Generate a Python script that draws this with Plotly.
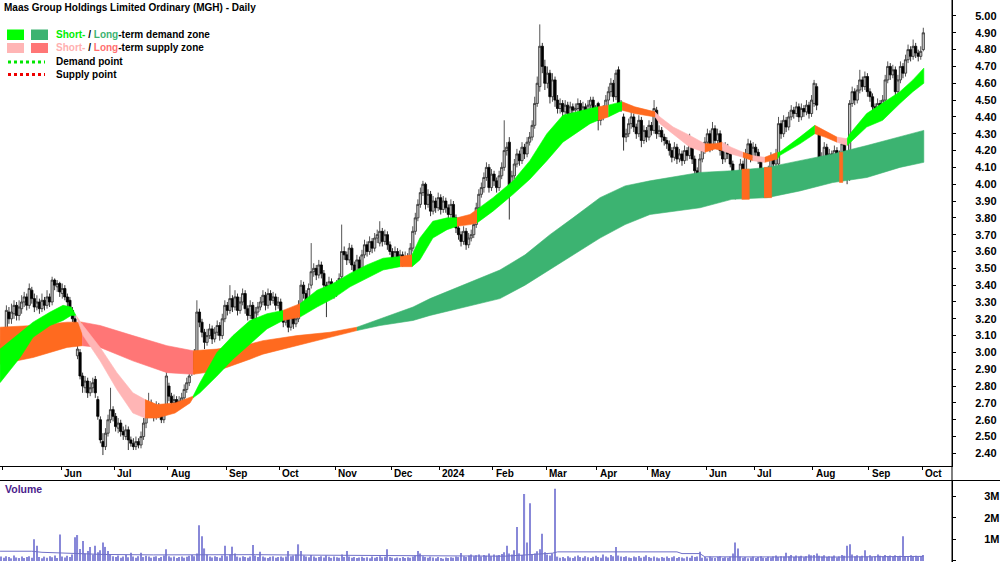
import plotly.graph_objects as go
import pandas as pd

W, H = 1000, 562

# ---------------- daily OHLC (index 0 = 28 Apr 2023) ----------------
opens = [
    3.02,3.04,3.08,3.24,3.20,3.23,3.28,3.22,3.26,3.30,
    3.33,3.28,3.37,3.32,3.27,3.30,3.26,3.31,3.28,3.33,
    3.30,3.43,3.39,3.41,3.35,3.38,3.33,3.31,3.25,3.20,
    2.98,3.00,2.86,2.79,2.83,2.76,2.79,2.84,2.72,2.60,
    2.47,2.44,2.52,2.60,2.66,2.62,2.55,2.58,2.53,2.50,
    2.54,2.48,2.46,2.44,2.47,2.45,2.50,2.58,2.63,2.70,
    2.66,2.62,2.68,2.64,2.60,2.68,2.80,2.74,2.70,2.72,
    2.68,2.71,2.73,2.78,2.82,2.88,3.00,2.92,3.24,3.18,
    3.12,3.06,3.10,3.14,3.08,3.12,3.16,3.10,3.20,3.28,
    3.25,3.32,3.27,3.33,3.25,3.30,3.35,3.26,3.22,3.28,
    3.20,3.24,3.27,3.30,3.34,3.28,3.35,3.31,3.33,3.28,
    3.30,3.22,3.18,3.20,3.15,3.21,3.17,3.20,3.28,3.40,
    3.35,3.30,3.40,3.48,3.50,3.46,3.52,3.47,3.40,3.36,
    3.42,3.38,3.35,3.40,3.45,3.60,3.58,3.55,3.62,3.52,
    3.48,3.55,3.50,3.58,3.64,3.60,3.66,3.62,3.68,3.65,
    3.72,3.66,3.70,3.64,3.60,3.56,3.60,3.55,3.58,3.54,
    3.57,3.56,3.62,3.72,3.80,3.88,3.95,4.00,3.88,3.94,
    3.84,3.90,3.86,3.92,3.85,3.90,3.86,3.82,3.88,3.80,
    3.74,3.70,3.66,3.72,3.64,3.68,3.70,3.76,3.86,3.94,
    3.98,4.04,4.10,3.98,4.06,4.02,3.98,4.05,4.10,4.20,
    4.25,3.97,4.05,4.12,4.18,4.14,4.22,4.18,4.25,4.28,
    4.35,4.48,4.58,4.82,4.70,4.60,4.66,4.52,4.62,4.50,
    4.45,4.48,4.43,4.47,4.42,4.46,4.44,4.45,4.48,4.43,
    4.46,4.44,4.47,4.50,4.45,4.48,4.38,4.40,4.44,4.50,
    4.55,4.60,4.52,4.68,4.48,4.40,4.28,4.30,4.36,4.40,
    4.34,4.30,4.38,4.26,4.32,4.28,4.35,4.32,4.44,4.30,
    4.32,4.28,4.26,4.24,4.20,4.16,4.22,4.15,4.18,4.14,
    4.20,4.17,4.25,4.15,4.08,3.98,4.15,4.20,4.25,4.30,
    4.22,4.33,4.26,4.30,4.20,4.15,4.22,4.18,4.12,4.02,
    3.95,4.05,4.12,4.08,4.18,4.24,4.16,4.22,4.19,4.14,
    4.06,4.00,4.02,4.08,4.16,4.12,4.12,4.36,4.30,4.38,
    4.34,4.40,4.44,4.42,4.46,4.40,4.45,4.43,4.47,4.42,
    4.48,4.58,4.30,4.10,4.16,4.22,4.12,4.18,4.14,4.20,
    4.12,4.17,4.24,4.10,4.04,4.48,4.55,4.50,4.56,4.62,
    4.58,4.64,4.55,4.52,4.46,4.42,4.48,4.44,4.50,4.62,
    4.70,4.65,4.68,4.55,4.62,4.70,4.66,4.74,4.80,4.76,
    4.82,4.78,4.76,4.80,
]
highs = [
    3.10,3.15,3.28,3.27,3.29,3.31,3.30,3.31,3.34,3.36,
    3.35,3.41,3.39,3.35,3.34,3.32,3.35,3.33,3.37,3.35,
    3.45,3.44,3.43,3.42,3.41,3.40,3.35,3.33,3.27,3.22,
    3.05,3.02,2.88,2.86,2.85,2.83,2.85,2.86,2.74,2.62,
    2.52,2.55,2.63,2.79,2.68,2.64,2.61,2.60,2.56,2.57,
    2.56,2.50,2.49,2.50,2.49,2.53,2.61,2.66,2.76,2.72,
    2.68,2.71,2.70,2.66,2.69,2.95,2.82,2.76,2.75,2.74,
    2.74,2.76,2.81,2.85,2.89,3.00,3.02,3.31,3.26,3.20,
    3.14,3.14,3.17,3.16,3.15,3.19,3.18,3.23,3.31,3.30,
    3.40,3.34,3.37,3.35,3.33,3.38,3.37,3.28,3.31,3.30,
    3.27,3.30,3.33,3.37,3.36,3.38,3.37,3.36,3.35,3.33,
    3.32,3.24,3.23,3.22,3.24,3.23,3.23,3.31,3.43,3.42,
    3.37,3.41,3.65,3.53,3.52,3.55,3.54,3.49,3.42,3.45,
    3.44,3.40,3.43,3.47,3.76,3.63,3.60,3.65,3.64,3.54,
    3.58,3.57,3.61,3.67,3.66,3.69,3.68,3.71,3.73,3.78,
    3.74,3.73,3.72,3.66,3.62,3.63,3.62,3.61,3.60,3.60,
    3.59,3.65,3.75,3.83,3.91,3.98,4.02,4.01,3.97,3.96,
    3.93,3.92,3.95,3.94,3.93,3.92,3.88,3.91,3.90,3.82,
    3.76,3.72,3.75,3.74,3.71,3.73,3.79,3.89,3.97,4.01,
    4.07,4.13,4.12,4.09,4.08,4.04,4.08,4.13,4.38,4.25,
    4.28,4.08,4.15,4.21,4.20,4.25,4.24,4.28,4.31,4.38,
    4.52,4.64,4.95,4.84,4.74,4.70,4.68,4.66,4.64,4.53,
    4.51,4.50,4.50,4.49,4.49,4.48,4.48,4.51,4.50,4.49,
    4.48,4.50,4.52,4.52,4.47,4.49,4.43,4.47,4.53,4.58,
    4.63,4.62,4.68,4.70,4.50,4.42,4.33,4.39,4.43,4.42,
    4.36,4.41,4.40,4.35,4.34,4.38,4.37,4.50,4.46,4.35,
    4.34,4.30,4.28,4.26,4.22,4.25,4.24,4.21,4.20,4.23,
    4.22,4.30,4.27,4.17,4.10,4.18,4.23,4.28,4.33,4.32,
    4.37,4.35,4.33,4.32,4.22,4.25,4.24,4.20,4.14,4.04,
    4.08,4.15,4.14,4.21,4.27,4.26,4.25,4.24,4.21,4.16,
    4.08,4.05,4.11,4.19,4.18,4.21,4.40,4.38,4.41,4.40,
    4.43,4.47,4.46,4.49,4.48,4.48,4.47,4.50,4.49,4.53,
    4.62,4.60,4.32,4.19,4.25,4.24,4.21,4.20,4.23,4.22,
    4.20,4.27,4.26,4.12,4.50,4.58,4.57,4.59,4.68,4.64,
    4.67,4.66,4.57,4.54,4.48,4.51,4.50,4.53,4.65,4.73,
    4.72,4.71,4.70,4.65,4.73,4.72,4.77,4.83,4.82,4.86,
    4.84,4.80,4.82,4.93,
]
lows = [
    2.98,3.01,3.05,3.17,3.17,3.20,3.19,3.19,3.23,3.27,
    3.25,3.26,3.29,3.24,3.25,3.23,3.24,3.25,3.26,3.27,
    3.28,3.37,3.36,3.33,3.32,3.31,3.27,3.22,3.18,3.15,
    2.96,2.84,2.76,2.76,2.73,2.74,2.76,2.73,2.60,2.46,
    2.39,2.42,2.50,2.58,2.59,2.53,2.52,2.50,2.48,2.48,
    2.42,2.44,2.42,2.42,2.43,2.43,2.48,2.55,2.61,2.63,
    2.59,2.60,2.61,2.58,2.58,2.66,2.71,2.67,2.67,2.66,
    2.66,2.69,2.71,2.76,2.80,2.86,2.87,2.90,3.15,3.09,
    3.02,3.04,3.08,3.05,3.06,3.10,3.07,3.08,3.18,3.22,
    3.23,3.24,3.25,3.22,3.23,3.28,3.23,3.19,3.20,3.17,
    3.18,3.22,3.25,3.28,3.25,3.26,3.28,3.29,3.25,3.26,
    3.19,3.15,3.16,3.12,3.13,3.14,3.15,3.18,3.26,3.32,
    3.27,3.28,3.38,3.45,3.43,3.44,3.44,3.37,3.21,3.34,
    3.35,3.32,3.33,3.38,3.43,3.55,3.52,3.53,3.49,3.45,
    3.46,3.47,3.48,3.56,3.57,3.58,3.59,3.60,3.65,3.63,
    3.63,3.64,3.61,3.58,3.53,3.54,3.52,3.53,3.51,3.52,
    3.53,3.54,3.60,3.70,3.78,3.86,3.93,3.85,3.86,3.81,
    3.82,3.83,3.84,3.82,3.83,3.83,3.79,3.80,3.77,3.71,
    3.67,3.63,3.64,3.61,3.62,3.66,3.68,3.74,3.84,3.92,
    3.95,4.02,3.95,3.96,3.99,3.95,3.96,4.03,4.08,4.17,
    3.79,3.95,4.03,4.10,4.11,4.12,4.15,4.16,4.23,4.26,
    4.33,4.46,4.55,4.66,4.56,4.57,4.48,4.49,4.46,4.42,
    4.42,4.40,4.41,4.39,4.40,4.41,4.42,4.43,4.40,4.41,
    4.41,4.42,4.45,4.42,4.39,4.32,4.35,4.38,4.42,4.47,
    4.52,4.49,4.50,4.46,4.43,4.20,4.25,4.28,4.33,4.31,
    4.27,4.28,4.22,4.24,4.25,4.26,4.29,4.30,4.27,4.28,
    4.25,4.23,4.21,4.17,4.13,4.14,4.12,4.13,4.11,4.12,
    4.14,4.15,4.12,4.05,3.89,3.95,4.13,4.18,4.23,4.19,
    4.20,4.23,4.24,4.17,4.12,4.13,4.15,4.10,4.00,3.91,
    3.93,4.03,4.05,4.06,4.16,4.13,4.14,4.16,4.12,4.03,
    3.98,3.98,4.00,4.06,4.10,4.10,4.10,4.27,4.28,4.31,
    4.32,4.38,4.39,4.40,4.37,4.38,4.40,4.41,4.39,4.40,
    4.46,4.44,4.03,4.07,4.14,4.09,4.10,4.11,4.12,4.09,
    4.10,4.15,4.07,4.00,4.02,4.46,4.47,4.48,4.54,4.55,
    4.56,4.52,4.49,4.43,4.39,4.40,4.41,4.42,4.48,4.60,
    4.62,4.63,4.52,4.53,4.60,4.63,4.64,4.72,4.73,4.74,
    4.75,4.73,4.74,4.79,
]
closes = [
    3.05,3.12,3.25,3.20,3.24,3.28,3.22,3.27,3.30,3.33,
    3.28,3.38,3.32,3.27,3.30,3.26,3.31,3.28,3.33,3.30,
    3.43,3.40,3.41,3.36,3.38,3.33,3.30,3.25,3.20,3.17,
    3.02,2.86,2.80,2.83,2.76,2.79,2.82,2.76,2.62,2.48,
    2.44,2.52,2.60,2.66,2.62,2.56,2.58,2.53,2.51,2.54,
    2.48,2.46,2.44,2.47,2.45,2.50,2.58,2.63,2.70,2.66,
    2.62,2.68,2.64,2.60,2.66,2.86,2.74,2.70,2.72,2.68,
    2.71,2.73,2.78,2.82,2.86,2.98,2.90,3.24,3.18,3.12,
    3.06,3.10,3.14,3.08,3.12,3.16,3.10,3.20,3.28,3.25,
    3.32,3.27,3.33,3.25,3.30,3.35,3.26,3.22,3.28,3.20,
    3.24,3.27,3.30,3.34,3.28,3.35,3.31,3.33,3.28,3.30,
    3.22,3.18,3.20,3.15,3.21,3.17,3.20,3.28,3.40,3.35,
    3.30,3.38,3.48,3.50,3.46,3.52,3.47,3.40,3.36,3.42,
    3.38,3.35,3.40,3.44,3.60,3.58,3.55,3.62,3.52,3.48,
    3.55,3.50,3.58,3.64,3.60,3.66,3.62,3.68,3.70,3.72,
    3.66,3.70,3.64,3.60,3.56,3.60,3.55,3.58,3.54,3.57,
    3.56,3.62,3.72,3.80,3.88,3.95,4.00,3.88,3.94,3.84,
    3.90,3.86,3.92,3.85,3.90,3.86,3.82,3.88,3.80,3.74,
    3.70,3.66,3.72,3.64,3.68,3.70,3.76,3.86,3.94,3.98,
    4.04,4.10,3.98,4.06,4.02,3.98,4.05,4.10,4.20,4.22,
    3.97,4.05,4.12,4.18,4.14,4.22,4.18,4.25,4.28,4.35,
    4.48,4.60,4.82,4.70,4.60,4.66,4.52,4.62,4.50,4.45,
    4.48,4.43,4.47,4.42,4.46,4.44,4.45,4.48,4.43,4.46,
    4.44,4.47,4.50,4.45,4.42,4.38,4.40,4.44,4.50,4.55,
    4.60,4.52,4.66,4.48,4.46,4.28,4.30,4.36,4.40,4.34,
    4.30,4.38,4.26,4.32,4.28,4.35,4.32,4.45,4.30,4.32,
    4.28,4.26,4.24,4.20,4.16,4.22,4.15,4.18,4.14,4.20,
    4.17,4.25,4.15,4.08,3.95,4.15,4.20,4.25,4.30,4.22,
    4.33,4.26,4.30,4.20,4.15,4.22,4.18,4.12,4.02,3.95,
    4.05,4.12,4.08,4.18,4.24,4.16,4.22,4.19,4.14,4.06,
    4.00,4.02,4.08,4.16,4.12,4.18,4.36,4.30,4.38,4.34,
    4.40,4.44,4.42,4.46,4.40,4.45,4.43,4.47,4.42,4.50,
    4.60,4.47,4.10,4.16,4.22,4.12,4.18,4.14,4.20,4.12,
    4.17,4.24,4.10,4.06,4.48,4.55,4.50,4.56,4.62,4.58,
    4.64,4.55,4.52,4.46,4.42,4.48,4.44,4.50,4.62,4.70,
    4.65,4.68,4.55,4.62,4.70,4.66,4.74,4.80,4.76,4.82,
    4.78,4.76,4.79,4.90,
]
# daily volume, millions of shares
volumes = (
    [0.20,0.15,0.22,0.18,0.12,0.25,0.16,0.14,0.20,0.13,0.18,0.22,0.15]
    + [1.00,0.70]
    + [0.18,0.12,0.20,0.15,0.22,0.17,0.25,0.14]
    + [1.23]
    + [0.20,0.16,0.24,0.18,0.30]
    + [1.10,1.20,0.55,0.92,0.35,0.46,0.65,0.30,0.70,0.40,0.50,0.85,0.65,0.46,0.30]
    + [0.22,0.18,0.25,0.15,0.20,0.28,0.17]
    + [0.38]
    + [0.20,0.15,0.22]
    + [0.38]
    + [0.18,0.24,0.20,0.15,0.19,0.22,0.14,0.18,0.25]
    + [0.54]
    + [0.22,0.16,0.20,0.14,0.18,0.21,0.15,0.19,0.24,0.28,0.22,0.35]
    + [1.66,1.15,0.58,0.30]
    + [0.20,0.16,0.22,0.18,0.15,0.25]
    + [0.70]
    + [0.22,0.30]
    + [0.66]
    + [0.35,0.20,0.16,0.22,0.18,0.15,0.20]
    + [0.74]
    + [0.25,0.18]
    + [0.43]
    + [0.20,0.16,0.14,0.19,0.22,0.15,0.18,0.21,0.16,0.20]
    + [0.46]
    + [0.22,0.25,0.30]
    + [0.77,0.46]
    + [0.25,0.20,0.17,0.28,0.20,0.15,0.18,0.22,0.16,0.25,0.19,0.14,0.20,0.17,0.15,0.30,0.18]
    + [0.46]
    + [0.20,0.15,0.18,0.13,0.16,0.19,0.14,0.17,0.12,0.20,0.15,0.18,0.22,0.16,0.19]
    + [0.54]
    + [0.18,0.15,0.12,0.16,0.14,0.18,0.13,0.17,0.15,0.20,0.25]
    + [0.46,0.34]
    + [0.22,0.18,0.15,0.20,0.16,0.12,0.18,0.14,0.10,0.16,0.13,0.17,0.15,0.20,0.18]
    + [0.37]
    + [0.22,0.18,0.25]
    + [0.30]
    + [0.22,0.26,0.30,0.20,0.28,0.24,0.35,0.22,0.30,0.25,0.28,0.32,0.40]
    + [0.70]
    + [0.35,0.30]
    + [0.50,1.57]
    + [0.35,0.28]
    + [3.10,0.85,2.68]
    + [0.30,0.35,0.45]
    + [0.54,1.26]
    + [0.40,0.30,0.25,0.35]
    + [3.35]
    + [0.20,0.15,0.18,0.12,0.22,0.16,0.14,0.20,0.25,0.18,0.15,0.22,0.17,0.13,0.19,0.24,0.18,0.15,0.30,0.20,0.16,0.28,0.22]
    + [0.65]
    + [0.25,0.20,0.18,0.22,0.16,0.14,0.20,0.17,0.23,0.15,0.19,0.26,0.18,0.14,0.21,0.16,
       0.12,0.18,0.15,0.20,0.13,0.17,0.22,0.14,0.18,0.16,0.12,0.19,0.15,0.24,0.18,0.20]
    + [0.43]
    + [0.15,0.18,0.12,0.20,0.16,0.14,0.19,0.22,0.13,0.17,0.15,0.20]
    + [0.34,0.85,0.58]
    + [0.20,0.15,0.18,0.12,0.16,0.20,0.14,0.18,0.22,0.15,0.13,0.19,0.16,0.21,0.25,0.18,0.22,0.20]
    + [0.38]
    + [0.22,0.28,0.18,0.25,0.20,0.24,0.17,0.22,0.30,0.26,0.28,0.35,0.24,0.20,0.26,0.18,0.22,0.19,0.25,0.16,0.21,0.28,0.24]
    + [0.70,0.77]
    + [0.30,0.22,0.26,0.20,0.24]
    + [0.50]
    + [0.20,0.26,0.18,0.22,0.30,0.24,0.20,0.28,0.22,0.25,0.19,0.26,0.21,0.24]
    + [1.14]
    + [0.22,0.18,0.26,0.20,0.24,0.19,0.22,0.28]
)
# volume average line, read at sample points (day index, millions)
vol_avg_x = [-0.5, 12, 16, 40, 60, 80, 100, 120, 150, 180, 198, 204, 209, 217, 219, 266, 268, 275, 277, 330, 363]
vol_avg_y = [0.45, 0.45, 0.40, 0.30, 0.28, 0.30, 0.29, 0.27, 0.24, 0.22, 0.22, 0.26, 0.30, 0.36, 0.42, 0.42, 0.34, 0.34, 0.19, 0.18, 0.21]

# ---------------- zones (sampled edges, day index) ----------------
st_x = [-0.5, 7.4, 12.5, 19.2, 24.3, 27.5, 29.4, 32.2, 38.9, 45.5, 51.8, 56.6, 61.3, 68.4, 74.3, 75.5,
        78.2, 84.9, 91.2, 97.9, 104.6, 110.9, 117.6, 124.3, 130.6, 137.3, 143.9, 150.3, 157.0, 161.7,
        164.8, 169.9, 175.5, 179.4, 184.5, 187.3, 193.6, 201.5, 208.1, 214.8, 221.1, 231.8, 235.0,
        239.0, 244.4, 249.4, 257.4, 259.3, 264.5, 271.1, 277.0, 281.0, 283.8, 287.3, 292.0, 295.8,
        300.6, 305.6, 306.4, 314.4, 320.3, 324.3, 329.0, 333.0, 334.1, 340.7, 347.0, 353.8, 358.9, 363.2]
st_upper = [3.02, 3.12, 3.18, 3.24, 3.28, 3.27, 3.22, 3.16, 3.03, 2.88, 2.76, 2.72, 2.69, 2.70, 2.73, 2.74,
            2.82, 3.00, 3.10, 3.19, 3.23, 3.25, 3.29, 3.37, 3.41, 3.47, 3.52, 3.56, 3.57, 3.58,
            3.68, 3.78, 3.80, 3.80, 3.82, 3.85, 3.92, 4.02, 4.14, 4.30, 4.41, 4.45, 4.46,
            4.47, 4.49, 4.46, 4.43, 4.40, 4.34, 4.29, 4.24, 4.24, 4.25, 4.22, 4.19, 4.17,
            4.16, 4.19, 4.19, 4.28, 4.35, 4.32, 4.28, 4.27, 4.30, 4.42, 4.48, 4.55, 4.62, 4.69]
st_lower = [2.82, 2.97, 3.09, 3.16, 3.19, 3.22, 3.22, 3.10, 2.95, 2.78, 2.64, 2.61, 2.61, 2.64, 2.70, 2.73,
            2.76, 2.86, 2.96, 3.05, 3.14, 3.19, 3.21, 3.27, 3.32, 3.39, 3.44, 3.49, 3.51, 3.51,
            3.55, 3.68, 3.73, 3.75, 3.76, 3.77, 3.84, 3.94, 4.03, 4.14, 4.25, 4.36, 4.38,
            4.40, 4.44, 4.42, 4.40, 4.36, 4.30, 4.22, 4.19, 4.21, 4.20, 4.18, 4.16, 4.14,
            4.13, 4.15, 4.17, 4.24, 4.30, 4.28, 4.25, 4.23, 4.25, 4.34, 4.38, 4.48, 4.55, 4.60]
# (first point, last point, state) - sd: short-term demand, ss: short-term supply, in: price inside zone
st_segments = [(0, 6, "sd"), (6, 11, "ss"), (11, 15, "in"), (15, 21, "sd"), (21, 22, "in"), (22, 28, "sd"),
               (28, 29, "in"), (29, 33, "sd"), (33, 35, "in"), (35, 42, "sd"), (42, 43, "in"), (43, 44, "sd"),
               (44, 46, "in"), (46, 50, "ss"), (50, 52, "in"), (52, 54, "ss"), (54, 55, "in"), (55, 56, "ss"),
               (56, 57, "in"), (57, 60, "sd"), (60, 62, "in"), (62, 63, "ss"), (63, 69, "sd")]

lt_x = [-0.5, 12.5, 25.9, 31.8, 38.9, 51.8, 65.2, 75.5, 84.9, 97.9, 103.0, 116.4, 129.4, 140.0, 149.1,
        162.1, 168.8, 176.7, 196.3, 206.2, 216.0, 225.1, 235.7, 245.6, 255.4, 275.1, 287.6, 301.5,
        314.4, 327.4, 340.8, 353.8, 363.2]
lt_upper = [3.15, 3.16, 3.18, 3.18, 3.16, 3.10, 3.04, 3.01, 3.02, 3.05, 3.07, 3.10, 3.12, 3.15, 3.20,
            3.27, 3.32, 3.37, 3.49, 3.58, 3.70, 3.80, 3.92, 3.99, 4.02, 4.07, 4.08, 4.10,
            4.14, 4.18, 4.23, 4.28, 4.32]
lt_lower = [2.93, 2.97, 3.03, 3.04, 3.03, 2.95, 2.88, 2.87, 2.89, 2.96, 2.99, 3.04, 3.09, 3.13, 3.16,
            3.19, 3.22, 3.25, 3.32, 3.40, 3.49, 3.58, 3.68, 3.76, 3.82, 3.86, 3.91, 3.92,
            3.96, 4.01, 4.04, 4.10, 4.13]
lt_segments = [(0, 3, "in"), (3, 7, "ls"), (7, 13, "in"), (13, 32, "ld")]
# days when price dipped into the long-term zone
lt_touch_x0 = [291.5, 300.3, 329.9]
lt_touch_x1 = [294.5, 303.3, 331.3]
lt_touch_upper = [4.09, 4.10, 4.19]
lt_touch_lower = [3.91, 3.92, 4.01]

month_labels = ["Jun", "Jul", "Aug", "Sep", "Oct", "Nov", "Dec", "2024", "Feb", "Mar", "Apr",
                "May", "Jun", "Jul", "Aug", "Sep", "Oct"]
price_tick_labels = ["2.40", "2.50", "2.60", "2.70", "2.80", "2.90", "3.00", "3.10", "3.20", "3.30",
                     "3.40", "3.50", "3.60", "3.70", "3.80", "3.90", "4.00", "4.10", "4.20", "4.30",
                     "4.40", "4.50", "4.60", "4.70", "4.80", "4.90", "5.00"]
vol_tick_vals = [0, 1, 2, 3]
vol_tick_labels = ["0", "1M", "2M", "3M"]

COLORS = {"sd": "#00ff00", "ld": "#3cb371", "ss": "#ffb5b5", "ls": "#ff7676", "in": "#ff6a1f"}

# ---------------- trading calendar ----------------
holidays = pd.to_datetime(["2023-06-12", "2023-12-25", "2023-12-26", "2024-01-01", "2024-01-26",
                           "2024-03-29", "2024-04-01", "2024-04-25", "2024-06-10"])
days = pd.bdate_range("2023-04-28", "2024-10-01")
days = days[~days.isin(holidays)]
month_starts = [i for i in range(1, len(days)) if days[i].month != days[i - 1].month]
labelled_starts = [m for m in month_starts if days[m] >= pd.Timestamp("2023-06-01")]

n = len(closes)
for name, arr in [("opens", opens), ("highs", highs), ("lows", lows), ("volumes", volumes)]:
    if len(arr) != n:
        raise ValueError(f"{name} has {len(arr)} values, closes has {n}")
idx = list(range(n))

XR = [-0.52, 374.3]
XD = 0.952
Y_PRICE_BOTTOM = 1 - 466 / H
Y_VOL_TOP = 1 - 480.5 / H


def px(x):
    return x / W


def py(y):
    return 1 - y / H


fig = go.Figure()


def add_band(xs, up, lo, segs):
    for a, b, state in segs:
        X = xs[a:b + 1] + xs[a:b + 1][::-1]
        Y = up[a:b + 1] + lo[a:b + 1][::-1]
        c = COLORS[state]
        fig.add_trace(go.Scatter(x=X, y=Y, mode="lines", fill="toself", fillcolor=c,
                                 line=dict(color=c, width=0.6), hoverinfo="skip", showlegend=False))


add_band(lt_x, lt_upper, lt_lower, lt_segments)
for x0, x1, u, l in zip(lt_touch_x0, lt_touch_x1, lt_touch_upper, lt_touch_lower):
    fig.add_trace(go.Scatter(x=[x0, x1, x1, x0], y=[u, u, l, l], mode="lines", fill="toself",
                             fillcolor=COLORS["in"], line=dict(color=COLORS["in"], width=0.5),
                             hoverinfo="skip", showlegend=False))
add_band(st_x, st_upper, st_lower, st_segments)

fig.add_trace(go.Candlestick(
    x=idx, open=opens, high=highs, low=lows, close=closes,
    increasing=dict(line=dict(color="#2a2a2a", width=0.8), fillcolor="#c6c6c6"),
    decreasing=dict(line=dict(color="#000000", width=0.8), fillcolor="#000000"),
    whiskerwidth=0, showlegend=False, hoverinfo="skip"))

fig.add_trace(go.Bar(x=idx, y=volumes, width=0.45, marker=dict(color="#8888d8", line=dict(width=0)),
                     xaxis="x2", yaxis="y2", showlegend=False, hoverinfo="skip"))
fig.add_trace(go.Scatter(x=vol_avg_x, y=vol_avg_y, mode="lines", line=dict(color="#7070c8", width=1),
                         xaxis="x2", yaxis="y2", showlegend=False, hoverinfo="skip"))

tick_font = dict(family="Liberation Sans, Arial, sans-serif", size=11, color="#000", weight="bold")

fig.update_layout(
    width=W, height=H, margin=dict(l=0, r=0, t=0, b=0),
    paper_bgcolor="white", plot_bgcolor="white",
    showlegend=False, hovermode=False, boxgap=0.12, boxgroupgap=0,
    xaxis=dict(domain=[0, XD], range=XR, anchor="y", showgrid=False, zeroline=False,
               showline=True, linecolor="#000", linewidth=1,
               tickmode="array", tickvals=[m - 0.5 for m in month_starts], ticks="outside",
               ticklen=3, tickcolor="#000", tickwidth=1, showticklabels=False,
               rangeslider=dict(visible=False)),
    yaxis=dict(domain=[Y_PRICE_BOTTOM, 1], range=[2.325, 5.095], side="right", anchor="x",
               showgrid=False, zeroline=False, showline=True, linecolor="#000", linewidth=1,
               tickmode="array", tickvals=[float(t) for t in price_tick_labels], ticktext=price_tick_labels,
               ticks="outside", ticklen=3, tickcolor="#000", tickfont=tick_font, ticklabelstandoff=17),
    xaxis2=dict(domain=[0, XD], range=XR, anchor="y2", showgrid=False, zeroline=False,
                showline=False, showticklabels=False, ticks=""),
    yaxis2=dict(domain=[0, Y_VOL_TOP], range=[-0.05, 3.73], side="right", anchor="x2",
                showgrid=False, zeroline=False, showline=True, linecolor="#000", linewidth=1,
                tickmode="array", tickvals=vol_tick_vals, ticktext=vol_tick_labels,
                ticks="outside", ticklen=3, tickcolor="#000", tickfont=tick_font, ticklabelstandoff=26),
)

shapes = [
    dict(type="line", xref="paper", yref="paper", x0=XD, x1=XD, y0=0, y1=1, line=dict(color="#000", width=1)),
    dict(type="line", xref="paper", yref="paper", x0=0, x1=1, y0=Y_VOL_TOP, y1=Y_VOL_TOP,
         line=dict(color="#000", width=1)),
    # legend swatches
    dict(type="rect", xref="paper", yref="paper", x0=px(7), x1=px(24), y0=py(40), y1=py(29.5),
         fillcolor=COLORS["sd"], line=dict(width=0)),
    dict(type="rect", xref="paper", yref="paper", x0=px(31), x1=px(48), y0=py(40), y1=py(29.5),
         fillcolor=COLORS["ld"], line=dict(width=0)),
    dict(type="rect", xref="paper", yref="paper", x0=px(7), x1=px(24), y0=py(53), y1=py(43),
         fillcolor=COLORS["ss"], line=dict(width=0)),
    dict(type="rect", xref="paper", yref="paper", x0=px(31), x1=px(48), y0=py(53), y1=py(43),
         fillcolor=COLORS["ls"], line=dict(width=0)),
    dict(type="line", xref="paper", yref="paper", x0=px(8), x1=px(45), y0=py(62), y1=py(62),
         line=dict(color="#00e600", width=3, dash="dot")),
    dict(type="line", xref="paper", yref="paper", x0=px(8), x1=px(45), y0=py(74.5), y1=py(74.5),
         line=dict(color="#ee0000", width=3, dash="dot")),
]
fig.update_layout(shapes=shapes)

txt_font = dict(family="Liberation Sans, Arial, sans-serif", size=10, color="#000", weight="bold")
ann = [
    dict(text="Maas Group Holdings Limited Ordinary (MGH) - Daily", x=px(2), y=py(7.5),
         xanchor="left", yanchor="middle", font=txt_font),
    dict(text="<span style='color:#00ee00'>Short-</span> / <span style='color:#3cb371'>Long</span>-term demand zone",
         x=px(54), y=py(35), xanchor="left", yanchor="middle", font=txt_font),
    dict(text="<span style='color:#ffb0b0'>Short-</span> / <span style='color:#ff6f6f'>Long</span>-term supply zone",
         x=px(54), y=py(48), xanchor="left", yanchor="middle", font=txt_font),
    dict(text="Demand point", x=px(54), y=py(62), xanchor="left", yanchor="middle", font=txt_font),
    dict(text="Supply point", x=px(54), y=py(74.5), xanchor="left", yanchor="middle", font=txt_font),
    dict(text="Volume", x=px(3), y=py(489), xanchor="left", yanchor="middle",
         font=dict(family="Liberation Sans, Arial, sans-serif", size=10.5, color="#4b1d8c", weight="bold")),
]
for a in ann:
    a.update(xref="paper", yref="paper", showarrow=False)
for m, lab in zip(labelled_starts, month_labels):
    ann.append(dict(text=lab, x=m - 0.5, xref="x", y=py(473.5), yref="paper", xanchor="left",
                    yanchor="middle", xshift=1, showarrow=False, font=txt_font))
fig.update_layout(annotations=ann)

fig.write_html("out.html")
